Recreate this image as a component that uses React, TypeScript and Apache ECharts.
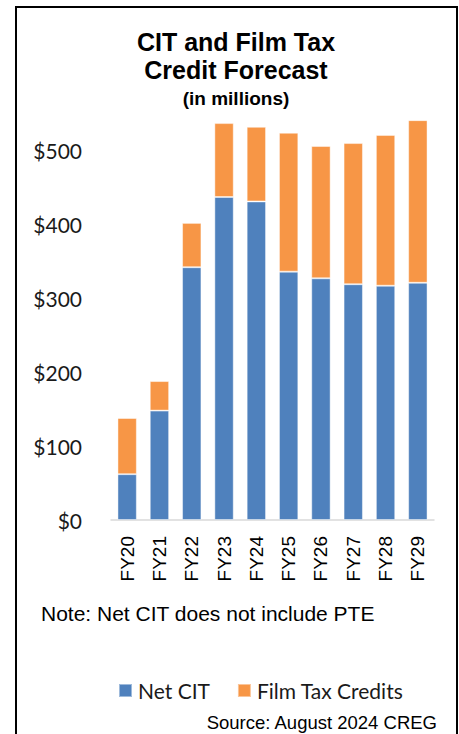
import React, { useEffect, useRef } from "react";
import * as echarts from "echarts";

const categories = ["FY20", "FY21", "FY22", "FY23", "FY24", "FY25", "FY26", "FY27", "FY28", "FY29"];
const netCIT = [62, 148, 342, 437, 431, 336, 327, 319, 317, 321];
const filmTaxCredits = [76, 40, 60, 100, 101, 188, 179, 191, 204, 220];
const titleLines = ["CIT and Film Tax", "Credit Forecast"];
const subtitle = "(in millions)";
const note = "Note: Net CIT does not include PTE";
const source = "Source: August 2024 CREG";

export default function App() {
  const ref = useRef<HTMLDivElement>(null);
  useEffect(() => {
    if (!ref.current) return;
    const chart = echarts.init(ref.current, null, { renderer: "svg" });
    chart.setOption({
      animation: false,
      backgroundColor: "#ffffff",
      grid: { left: 111, right: 25, top: 113.5, bottom: 214, containLabel: false },
      legend: {
        data: ["Net CIT", "Film Tax Credits"],
        left: 113,
        top: 675,
        icon: "rect",
        itemWidth: 13,
        itemHeight: 13,
        itemGap: 27,
        textStyle: { fontFamily: "Lato", fontSize: 21, color: "#1a1a1a", padding: [0, 0, 0, 1] },
      },
      xAxis: {
        type: "category",
        data: categories,
        axisLine: { show: true, lineStyle: { color: "#d9d9d9", width: 1.5 } },
        axisTick: { show: false },
        axisLabel: { rotate: 90, margin: 16, fontFamily: "Liberation Sans, Arial", fontSize: 19, color: "#000" },
      },
      yAxis: {
        type: "value",
        min: 0,
        max: 550,
        interval: 100,
        splitLine: { show: false },
        axisLine: { show: false },
        axisTick: { show: false },
        axisLabel: {
          margin: 29,
          showMaxLabel: false,
          fontFamily: "Lato",
          fontSize: 21,
          color: "#1a1a1a",
          formatter: (v: number) => (v > 500 ? "" : "$" + v),
        },
      },
      series: [
        {
          name: "Net CIT",
          type: "bar",
          stack: "total",
          data: netCIT,
          barCategoryGap: "40%",
          itemStyle: { color: "#4F81BD", borderColor: "rgba(255,255,255,0.45)", borderWidth: 1 },
        },
        {
          name: "Film Tax Credits",
          type: "bar",
          stack: "total",
          data: filmTaxCredits,
          barCategoryGap: "40%",
          itemStyle: { color: "#F79646", borderColor: "rgba(255,255,255,0.45)", borderWidth: 1 },
        },
      ],
      graphic: [
        {
          type: "rect",
          shape: { x: 16, y: 7, width: 441, height: 760 },
          style: { fill: "none", stroke: "#000", lineWidth: 2 },
          silent: true,
        },
        {
          type: "text",
          x: 236,
          y: 42,
          style: {
            text: titleLines[0],
            fontFamily: "Liberation Sans, Arial",
            fontWeight: "bold",
            fontSize: 25,
            fill: "#000",
            textAlign: "center",
            textVerticalAlign: "middle",
          },
        },
        {
          type: "text",
          x: 236,
          y: 70,
          style: {
            text: titleLines[1],
            fontFamily: "Liberation Sans, Arial",
            fontWeight: "bold",
            fontSize: 25,
            fill: "#000",
            textAlign: "center",
            textVerticalAlign: "middle",
          },
        },
        {
          type: "text",
          x: 236,
          y: 98,
          style: {
            text: subtitle,
            fontFamily: "Liberation Sans, Arial",
            fontWeight: "bold",
            fontSize: 19,
            fill: "#000",
            textAlign: "center",
            textVerticalAlign: "middle",
          },
        },
        {
          type: "text",
          x: 41,
          y: 613,
          style: {
            text: note,
            fontFamily: "Liberation Sans, Arial",
            fontSize: 21,
            fill: "#000",
            textAlign: "left",
            textVerticalAlign: "middle",
          },
        },
        {
          type: "text",
          x: 437,
          y: 722,
          style: {
            text: source,
            fontFamily: "Liberation Sans, Arial",
            fontSize: 18.5,
            fill: "#000",
            textAlign: "right",
            textVerticalAlign: "middle",
          },
        },
      ],
    });
    return () => chart.dispose();
  }, []);
  return <div ref={ref} style={{ position: "fixed", left: 0, top: 0, width: 459, height: 734 }} />;
}
